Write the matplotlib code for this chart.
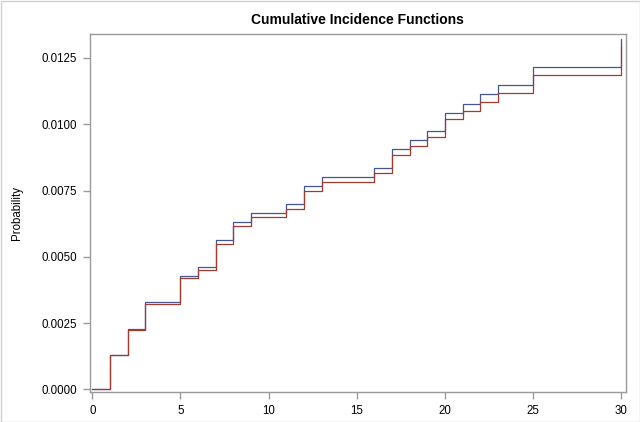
import numpy as np
import matplotlib
matplotlib.use("Agg")
import matplotlib.pyplot as plt

# event times and the two cumulative incidence curves (step functions)
times = [0, 1, 2, 3, 5, 6, 7, 8, 9, 11, 12, 13, 16, 17, 18, 19, 20, 21, 22, 23, 25, 30]
cif_blue = [0.0, 0.001284, 0.002266, 0.003285, 0.004267, 0.004607, 0.005627, 0.006307,
            0.006647, 0.006986, 0.007666, 0.008006, 0.008346, 0.009063, 0.009403,
            0.009743, 0.010423, 0.010763, 0.011140, 0.011480, 0.012160, 0.013202]
cif_red = [0.0, 0.001284, 0.002228, 0.003221, 0.004192, 0.004494, 0.005476, 0.006156,
           0.006495, 0.006798, 0.007477, 0.007817, 0.008157, 0.008837, 0.009177,
           0.009517, 0.010196, 0.010498, 0.010838, 0.011178, 0.011858, 0.012915]
xticks = [0, 5, 10, 15, 20, 25, 30]
yticks = [0.0, 0.0025, 0.005, 0.0075, 0.01, 0.0125]

plt.rcParams['font.family'] = ['Liberation Sans', 'DejaVu Sans']
axcol = '#9a9a9a'

fig = plt.figure(figsize=(6.4, 4.22), dpi=100)
ax = fig.add_axes([89.5/640, 1 - 392/422, (626 - 89.5)/640, (392 - 34)/422])

ax.plot(times, cif_blue, drawstyle='steps-post', color='#445694', lw=0.9)
ax.plot(times, cif_red, drawstyle='steps-post', color='#A23A2E', lw=0.9)

x0, x1 = 0, 30
px = (x1 - x0) / (621.3 - 92.3)
ax.set_xlim(x0 - (92.3 - 89.5) * px, x1 + (626 - 621.3) * px)
y0, y1 = 0.0, 0.0125
py = (y1 - y0) / (389.3 - 58)
ax.set_ylim(y0 - (392 - 389.3) * py, y1 + (58 - 34) * py)

ax.set_xticks(xticks)
ax.set_xticklabels([str(t) for t in xticks])
ax.set_yticks(yticks)
ax.set_yticklabels(["%.4f" % v for v in yticks])
ax.tick_params(colors=axcol, labelcolor='black', labelsize=8.3, length=5, width=1, pad=4)
for s in ax.spines.values():
    s.set_color(axcol)
    s.set_linewidth(1)

ax.set_ylabel('Probability', fontsize=8.3, labelpad=13)
ax.set_title('Cumulative Incidence Functions', fontsize=10, fontweight='bold', pad=7)

# light outer border like the original graph frame
fig.patches.append(plt.Rectangle((0.5/640, 0.5/422), 1 - 1/640, 1 - 1/422, transform=fig.transFigure,
                                 fill=False, edgecolor='#d0d0d0', lw=1))

fig.savefig('out.png', dpi=100)
